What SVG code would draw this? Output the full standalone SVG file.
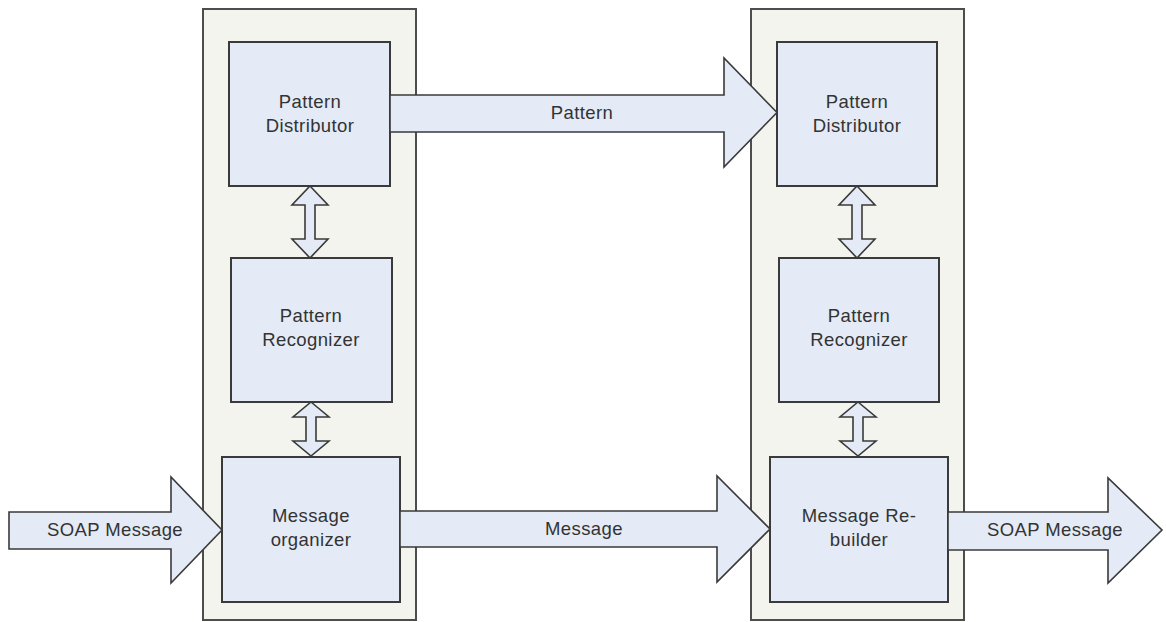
<svg xmlns="http://www.w3.org/2000/svg" width="1166" height="622" viewBox="0 0 1166 622">
  <style>
    .container { fill: #f3f4ed; stroke: #4d4d4d; stroke-width: 2; }
    .box { fill: #e4ebf6; stroke: #3a3a3a; stroke-width: 2; }
    .flow { fill: #e4ebf6; stroke: #3a3a3a; stroke-width: 1.6; stroke-linejoin: miter; }
    .label { font-family: "Liberation Sans", Arial, sans-serif; font-size: 18.5px; letter-spacing: 0.4px; fill: #333333; text-anchor: middle; }
  </style>
  <rect width="1166" height="622" fill="#ffffff"/>

  <!-- sender side -->
  <g id="sender">
    <rect class="container" x="203" y="9" width="213" height="611"/>
  </g>
  <g id="sender-distributor">
    <rect class="box" x="229" y="42" width="161" height="144"/>
    <text class="label" x="310" y="108">Pattern</text>
    <text class="label" x="310" y="132">Distributor</text>
  </g>
  <g id="sender-recognizer">
    <rect class="box" x="231" y="258" width="161" height="144"/>
    <text class="label" x="311" y="322">Pattern</text>
    <text class="label" x="311" y="346">Recognizer</text>
  </g>
  <g id="sender-organizer">
    <rect class="box" x="222" y="457" width="178" height="145"/>
    <text class="label" x="311" y="522">Message</text>
    <text class="label" x="311" y="546">organizer</text>
  </g>

  <!-- receiver side -->
  <g id="receiver">
    <rect class="container" x="751" y="9" width="213" height="611"/>
  </g>
  <g id="receiver-distributor">
    <rect class="box" x="777" y="42" width="160" height="144"/>
    <text class="label" x="857" y="108">Pattern</text>
    <text class="label" x="857" y="132">Distributor</text>
  </g>
  <g id="receiver-recognizer">
    <rect class="box" x="779" y="258" width="160" height="144"/>
    <text class="label" x="859" y="322">Pattern</text>
    <text class="label" x="859" y="346">Recognizer</text>
  </g>
  <g id="receiver-rebuilder">
    <rect class="box" x="770" y="457" width="178" height="145"/>
    <text class="label" x="859" y="522">Message Re-</text>
    <text class="label" x="859" y="546">builder</text>
  </g>

  <!-- connectors: block arrows -->
  <g id="connectors">
    <!-- distributor <-> recognizer (sender) -->
    <polygon class="flow" points="310,186 328,205 315,205 315,239 328,239 310,258 292,239 305,239 305,205 292,205"/>
    <!-- recognizer <-> organizer (sender) -->
    <polygon class="flow" points="311,402 329,417 316,417 316,441 329,441 311,456 293,441 306,441 306,417 293,417"/>
    <!-- distributor <-> recognizer (receiver) -->
    <polygon class="flow" points="857,186 875,205 862,205 862,239 875,239 857,258 839,239 852,239 852,205 839,205"/>
    <!-- recognizer <-> rebuilder (receiver) -->
    <polygon class="flow" points="858,402 876,417 863,417 863,441 876,441 858,456 840,441 853,441 853,417 840,417"/>

    <!-- pattern transfer -->
    <polygon class="flow" points="390,95 724,95 724,58 777,112.5 724,167 724,132 390,132"/>
    <text class="label" x="582" y="119">Pattern</text>

    <!-- message transfer -->
    <polygon class="flow" points="400,511 717,511 717,476 770,529 717,582 717,547 400,547"/>
    <text class="label" x="584" y="535">Message</text>

    <!-- incoming SOAP message -->
    <polygon class="flow" points="9,512 171,512 171,477 222,530 171,583 171,549 9,549"/>
    <text class="label" x="115" y="536">SOAP Message</text>

    <!-- outgoing SOAP message -->
    <polygon class="flow" points="948,512 1108,512 1108,478 1162,530 1108,583 1108,550 948,550"/>
    <text class="label" x="1055" y="536">SOAP Message</text>
  </g>
</svg>
